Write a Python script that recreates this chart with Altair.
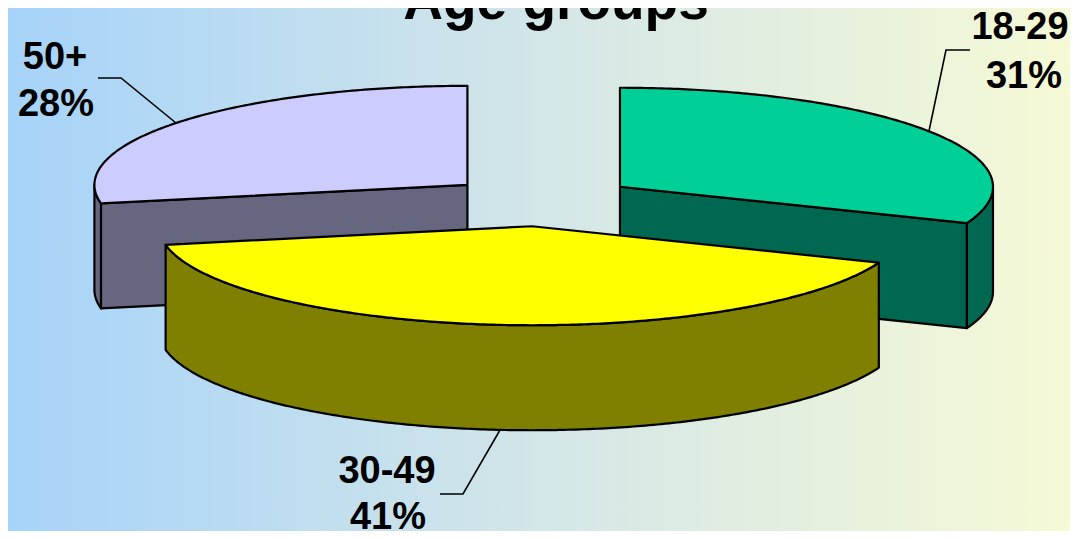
import numpy as np
import pandas as pd
import altair as alt

# --- chart values -----------------------------------------------------------
categories = ["18-29", "30-49", "50+"]
shares = [31, 41, 28]
top_colors = ["#00D098", "#FFFF00", "#CCCCFF"]
side_colors = ["#006850", "#808000", "#666680"]
title_text = "Age groups"

# --- layout -----------------------------------------------------------------
M = 8                      # page margin: all reference pixels are shifted by it
W, H = 1062, 523
CX, CY = 541 - M, 201 - M  # centre of the un-exploded pie
A, B = 373, 99             # ellipse radii of the tilted pie
DEPTH = 105
EXPLODE = 0.256
FONT = "Liberation Sans"

x_scale = alt.Scale(domain=[0, W], range=[0, W])
y_scale = alt.Scale(domain=[0, H], range=[0, H])
X = alt.X("x:Q", scale=x_scale, axis=None)
Y = alt.Y("y:Q", scale=y_scale, axis=None)


def arc(ax, ay, t0, t1, dy=0.0):
    n = max(2, int(abs(t1 - t0) * 90))
    t = np.linspace(t0, t1, n)
    return list(zip(ax + A * np.sin(t), ay - B * np.cos(t) + dy))


def poly(points, fill):
    pts = list(points) + [points[0]]
    df = pd.DataFrame(pts, columns=["x", "y"])
    df["i"] = range(len(df))
    return (
        alt.Chart(df)
        .mark_line(fill=fill, stroke="black", strokeWidth=2.2, strokeJoin="round", clip=False)
        .encode(x=X, y=Y, order="i:Q")
    )


# slices, computed from the shares
total = sum(shares)
edges = np.concatenate([[0], np.cumsum(shares)]) / total * 2 * np.pi
geom = {}
for k in range(len(shares)):
    t0, t1 = edges[k], edges[k + 1]
    mid = (t0 + t1) / 2
    ax = CX + EXPLODE * A * np.sin(mid)
    ay = CY - EXPLODE * B * np.cos(mid)
    geom[k] = (ax, ay, t0, t1)

layers = []

# gradient background
bg = (
    alt.Chart(pd.DataFrame({"a": [0]}))
    .mark_rect(
        color=alt.LinearGradient(
            gradient="linear",
            x1=0, x2=1, y1=0, y2=0,
            stops=[
                alt.GradientStop(color="#A6D3F9", offset=0),
                alt.GradientStop(color="#D3E6E8", offset=0.5),
                alt.GradientStop(color="#F5F9D5", offset=1),
            ],
        )
    )
    .encode(x=alt.value(0), x2=alt.value(W), y=alt.value(0), y2=alt.value(H))
)
layers.append(bg)

for k in [2, 0, 1]:  # back to front
    ax, ay, t0, t1 = geom[k]
    # outer wall: only the part on the viewer's side (90..270 degrees)
    v0, v1 = max(t0, np.pi / 2), min(t1, 3 * np.pi / 2)
    if v1 > v0:
        layers.append(
            poly(arc(ax, ay, v0, v1) + arc(ax, ay, v1, v0, DEPTH), side_colors[k])
        )
    # cut faces that can be seen
    for t in (t0, t1):
        if k == 1:
            continue
        if (k == 0 and t == t1) or (k == 2 and t == t0):
            e = arc(ax, ay, t, t)[0]
            layers.append(
                poly(
                    [(ax, ay), e, (e[0], e[1] + DEPTH), (ax, ay + DEPTH)],
                    side_colors[k],
                )
            )
    # top face
    layers.append(poly([(ax, ay)] + arc(ax, ay, t0, t1), top_colors[k]))

# leader lines
leaders = pd.DataFrame(
    {
        "g": ["a"] * 3 + ["b"] * 3 + ["c"] * 3,
        "i": [0, 1, 2] * 3,
        "x": [970, 946, 929, 98, 121, 176, 440, 463, 500],
        "y": [50, 50, 131, 78, 78, 123, 494, 494, 430],
    }
)
leaders["x"] -= M
leaders["y"] -= M
layers.append(
    alt.Chart(leaders)
    .mark_line(color="black", strokeWidth=1.6)
    .encode(x=X, y=Y, detail="g:N", order="i:Q")
)

# labels (nudged just inside the page's margin where they would be cut)
lab_rows = []
lab_pos = {
    "18-29": (1020, 39, 1024, 88),
    "30-49": (387, 483, 388, 529),
    "50+": (55, 69, 56, 116),
}
for cat, s in zip(categories, shares):
    x1, y1, x2, y2 = lab_pos[cat]
    lab_rows.append({"t": cat, "x": x1 - M, "y": y1 - M})
    lab_rows.append({"t": f"{s}%", "x": x2 - M, "y": y2 - M})
layers.append(
    alt.Chart(pd.DataFrame(lab_rows))
    .mark_text(font=FONT, fontWeight="bold", fontSize=38, color="black",
               align="center", baseline="alphabetic")
    .encode(x=X, y=Y, text="t:N")
)

# title (cut by the top edge, as in the reference)
layers.append(
    alt.Chart(pd.DataFrame({"t": [title_text], "x": [556 - M], "y": [19 - M]}))
    .mark_text(font=FONT, fontWeight="bold", fontSize=55, color="black",
               align="center", baseline="alphabetic")
    .encode(x=X, y=Y, text="t:N")
)

chart = (
    alt.layer(*layers)
    .properties(width=W, height=H, padding=0, autosize=alt.AutoSizeParams(type="none"))
    .configure_view(strokeWidth=0)
)

chart.save("out.html", embed_options={"renderer": "svg", "actions": False})
